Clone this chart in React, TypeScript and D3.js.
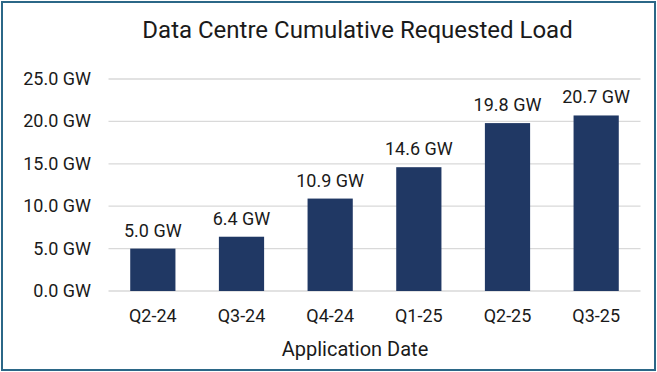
import React from "react";
import * as d3 from "d3";

const categories = ["Q2-24", "Q3-24", "Q4-24", "Q1-25", "Q2-25", "Q3-25"];
const loadGW = [5.0, 6.4, 10.9, 14.6, 19.8, 20.7];
const yTicks = [0, 5, 10, 15, 20, 25];

const W = 657;
const H = 372;
const margin = { left: 108.5, right: 16.5, top: 79, bottom: 81 };
const FONT = "Roboto, 'Noto Sans', sans-serif";

export default function App() {
  const x = d3
    .scaleBand<string>()
    .domain(categories)
    .range([margin.left, W - margin.right])
    .paddingInner(0.49)
    .paddingOuter(0.245);
  const y = d3
    .scaleLinear()
    .domain([0, 25])
    .range([H - margin.bottom, margin.top]);

  return (
    <div style={{ position: "fixed", left: 0, top: 0 }}>
      <svg width={W} height={H} style={{ display: "block" }}>
        <rect x={0} y={0} width={W} height={H} fill="#ffffff" />
        <rect
          x={2}
          y={2}
          width={W - 4}
          height={H - 4}
          fill="none"
          stroke="#2b6787"
          strokeWidth={2}
        />
        <text
          x={357.5}
          y={38}
          textAnchor="middle"
          fontFamily={FONT}
          fontSize={24}
          fill="#1a1a1a"
        >
          Data Centre Cumulative Requested Load
        </text>
        {yTicks.map((t) => (
          <g key={t}>
            <line
              x1={margin.left}
              x2={W - margin.right}
              y1={y(t)}
              y2={y(t)}
              stroke="#d9d9d9"
              strokeWidth={1.3}
            />
            <text
              x={91}
              y={y(t) + 6}
              textAnchor="end"
              fontFamily={FONT}
              fontSize={18}
              fill="#1a1a1a"
            >
              {t.toFixed(1)} GW
            </text>
          </g>
        ))}
        {categories.map((c, i) => {
          const bx = x(c) ?? 0;
          const v = loadGW[i];
          return (
            <g key={c}>
              <rect
                x={bx}
                y={y(v)}
                width={x.bandwidth()}
                height={y(0) - y(v)}
                fill="#203864"
              />
              <text
                x={bx + x.bandwidth() / 2}
                y={y(v) - 12}
                textAnchor="middle"
                fontFamily={FONT}
                fontSize={18}
                fill="#1a1a1a"
              >
                {v.toFixed(1)} GW
              </text>
              <text
                x={bx + x.bandwidth() / 2}
                y={322}
                textAnchor="middle"
                fontFamily={FONT}
                fontSize={18}
                fill="#1a1a1a"
              >
                {c}
              </text>
            </g>
          );
        })}
        <text
          x={355}
          y={356}
          textAnchor="middle"
          fontFamily={FONT}
          fontSize={20}
          fill="#1a1a1a"
        >
          Application Date
        </text>
      </svg>
    </div>
  );
}
